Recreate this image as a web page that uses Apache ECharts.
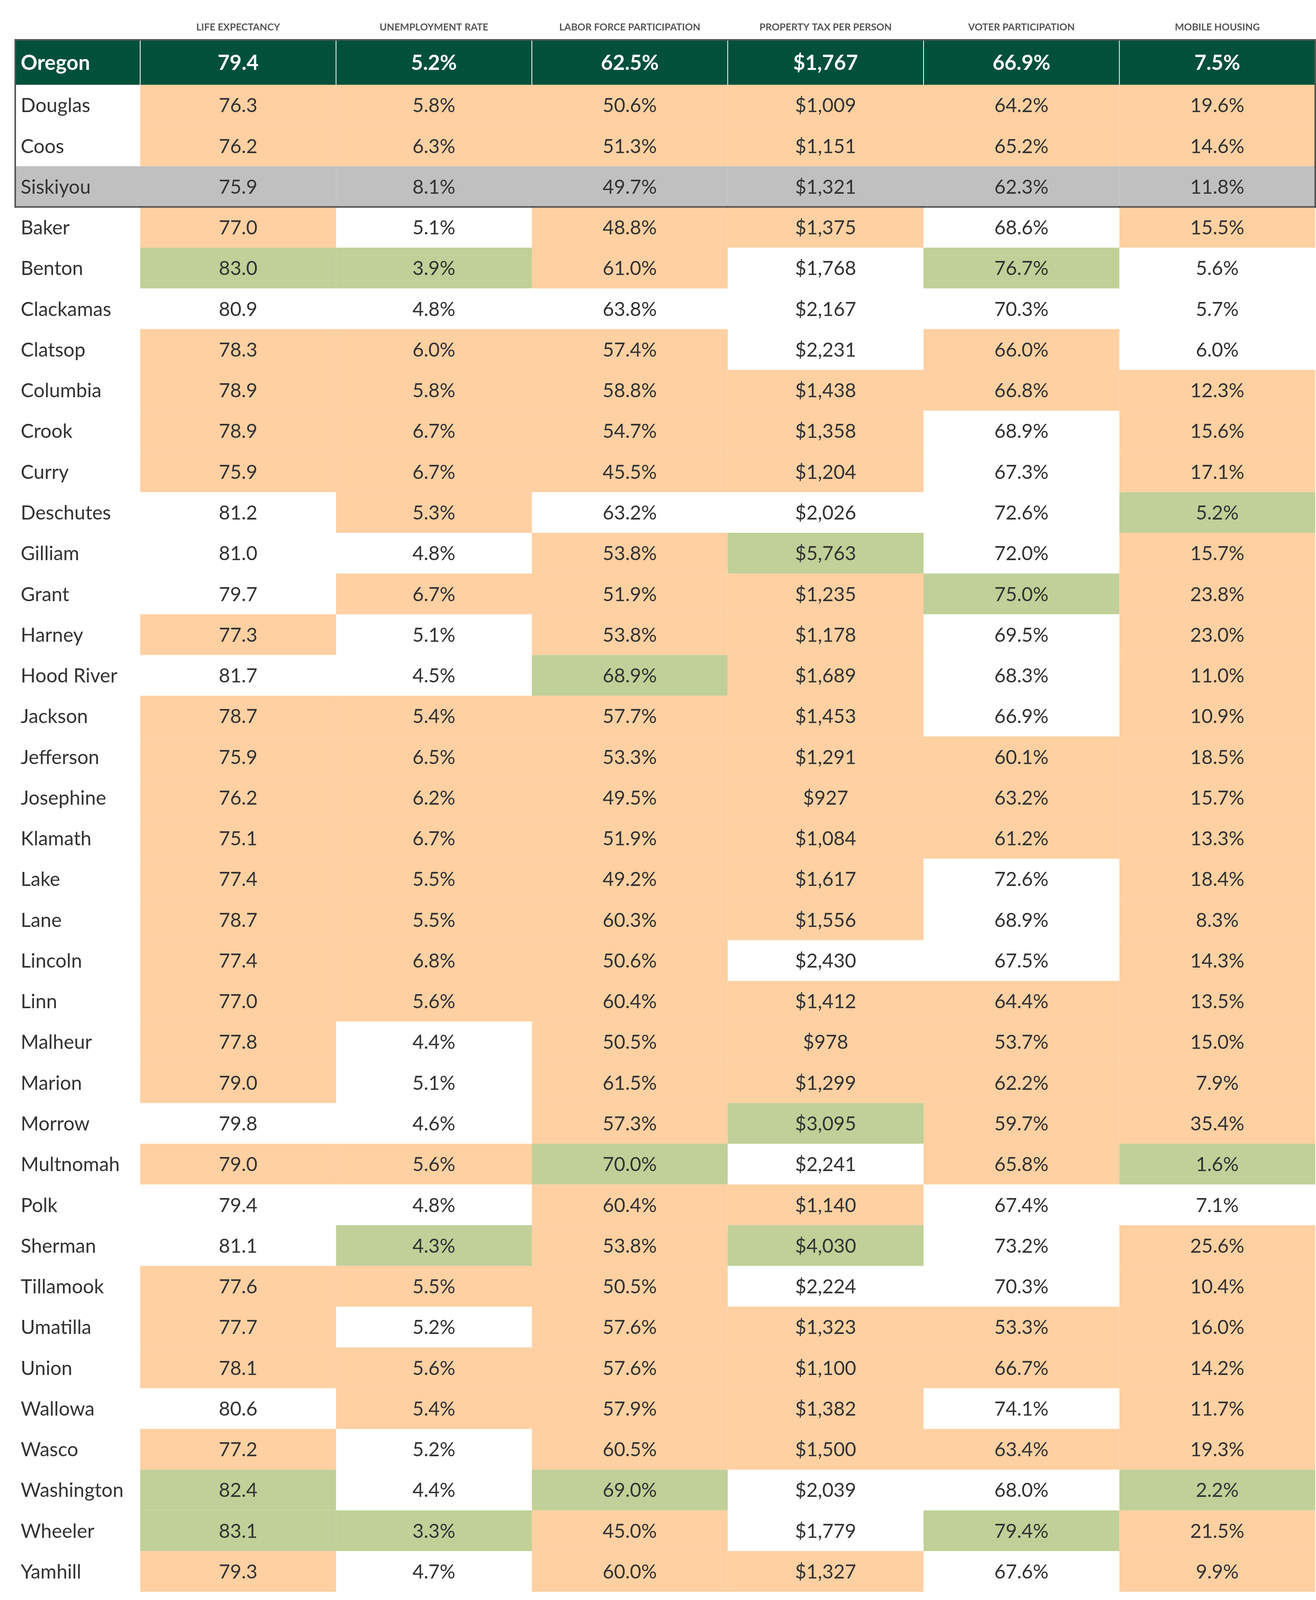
<!DOCTYPE html>
<html>
<head>
<meta charset="utf-8">
<script src="https://cdn.jsdelivr.net/npm/echarts@6.0.0/dist/echarts.min.js"></script>
<style>
  html, body { margin: 0; padding: 0; background: #fff; }
  #chart { width: 3370px; height: 4110px; }
</style>
</head>
<body>
<div id="chart"></div>
<script>
// column headers and which direction is "good" for each measure
const metrics = ['LIFE EXPECTANCY', 'UNEMPLOYMENT RATE', 'LABOR FORCE PARTICIPATION',
  'PROPERTY TAX PER PERSON', 'VOTER PARTICIPATION', 'MOBILE HOUSING'];
const higherIsBetter = [true, false, true, true, true, false];

const stateName = 'Oregon';
const stateValues = [79.4, 5.2, 62.5, 1767, 66.9, 7.5];

const counties = ['Douglas', 'Coos', 'Siskiyou', 'Baker', 'Benton', 'Clackamas', 'Clatsop',
  'Columbia', 'Crook', 'Curry', 'Deschutes', 'Gilliam', 'Grant', 'Harney', 'Hood River',
  'Jackson', 'Jefferson', 'Josephine', 'Klamath', 'Lake', 'Lane', 'Lincoln', 'Linn',
  'Malheur', 'Marion', 'Morrow', 'Multnomah', 'Polk', 'Sherman', 'Tillamook', 'Umatilla',
  'Union', 'Wallowa', 'Wasco', 'Washington', 'Wheeler', 'Yamhill'];

const lifeExpectancy = [76.3, 76.2, 75.9, 77.0, 83.0, 80.9, 78.3, 78.9, 78.9, 75.9, 81.2, 81.0,
  79.7, 77.3, 81.7, 78.7, 75.9, 76.2, 75.1, 77.4, 78.7, 77.4, 77.0, 77.8, 79.0, 79.8, 79.0,
  79.4, 81.1, 77.6, 77.7, 78.1, 80.6, 77.2, 82.4, 83.1, 79.3];
const unemployment = [5.8, 6.3, 8.1, 5.1, 3.9, 4.8, 6.0, 5.8, 6.7, 6.7, 5.3, 4.8, 6.7, 5.1, 4.5,
  5.4, 6.5, 6.2, 6.7, 5.5, 5.5, 6.8, 5.6, 4.4, 5.1, 4.6, 5.6, 4.8, 4.3, 5.5, 5.2, 5.6, 5.4,
  5.2, 4.4, 3.3, 4.7];
const laborForce = [50.6, 51.3, 49.7, 48.8, 61.0, 63.8, 57.4, 58.8, 54.7, 45.5, 63.2, 53.8, 51.9,
  53.8, 68.9, 57.7, 53.3, 49.5, 51.9, 49.2, 60.3, 50.6, 60.4, 50.5, 61.5, 57.3, 70.0, 60.4,
  53.8, 50.5, 57.6, 57.6, 57.9, 60.5, 69.0, 45.0, 60.0];
const propertyTax = [1009, 1151, 1321, 1375, 1768, 2167, 2231, 1438, 1358, 1204, 2026, 5763, 1235,
  1178, 1689, 1453, 1291, 927, 1084, 1617, 1556, 2430, 1412, 978, 1299, 3095, 2241, 1140,
  4030, 2224, 1323, 1100, 1382, 1500, 2039, 1779, 1327];
const voterTurnout = [64.2, 65.2, 62.3, 68.6, 76.7, 70.3, 66.0, 66.8, 68.9, 67.3, 72.6, 72.0, 75.0,
  69.5, 68.3, 66.9, 60.1, 63.2, 61.2, 72.6, 68.9, 67.5, 64.4, 53.7, 62.2, 59.7, 65.8, 67.4,
  73.2, 70.3, 53.3, 66.7, 74.1, 63.4, 68.0, 79.4, 67.6];
const mobileHousing = [19.6, 14.6, 11.8, 15.5, 5.6, 5.7, 6.0, 12.3, 15.6, 17.1, 5.2, 15.7, 23.8,
  23.0, 11.0, 10.9, 18.5, 15.7, 13.3, 18.4, 8.3, 14.3, 13.5, 15.0, 7.9, 35.4, 1.6, 7.1, 25.6,
  10.4, 16.0, 14.2, 11.7, 19.3, 2.2, 21.5, 9.9];

const outOfState = ['Siskiyou'];
const boxedRows = ['Douglas', 'Coos', 'Siskiyou'];

const FONT = 'Lato, "Open Sans", sans-serif';
const DARK_GREEN = '#00503a';
const ORANGE = '#fed0a2';
const GREEN = '#c0d098';
const GREY = '#c0c0c0';
const BORDER = '#555555';
const TEXT = '#333333';

const columns = [lifeExpectancy, unemployment, laborForce, propertyTax, voterTurnout, mobileHousing];

function formatValue(col, v) {
  if (col === 0) return v.toFixed(1);
  if (col === 3) return '$' + v.toLocaleString('en-US');
  return v.toFixed(1) + '%';
}

// orange = worse than the state, green = top three Oregon counties
function cellColor(col, row) {
  if (outOfState.indexOf(counties[row]) >= 0) return GREY;
  const up = higherIsBetter[col];
  const v = columns[col][row];
  const ranked = columns[col]
    .filter((_, i) => outOfState.indexOf(counties[i]) < 0)
    .slice()
    .sort((a, b) => up ? b - a : a - b);
  if (up ? v >= ranked[2] : v <= ranked[2]) return GREEN;
  if (up ? v < stateValues[col] : v > stateValues[col]) return ORANGE;
  return null;
}

const lastBoxed = boxedRows[boxedRows.length - 1];

// cell lists for the four grids
const stateLabelCells = [{ x: 0, y: 0, text: stateName, fill: DARK_GREEN, state: true, top: true, left: true }];
const stateValueCells = stateValues.map((v, c) => ({
  x: c, y: 0, text: formatValue(c, v), fill: DARK_GREEN, state: true, top: true,
  right: c === metrics.length - 1
}));
const countyLabelCells = counties.map((name, r) => ({
  x: 0, y: r, text: name,
  fill: outOfState.indexOf(name) >= 0 ? GREY : null,
  left: boxedRows.indexOf(name) >= 0,
  bottom: name === lastBoxed
}));
const countyValueCells = [];
counties.forEach((name, r) => {
  columns.forEach((vals, c) => {
    countyValueCells.push({
      x: c, y: r, text: formatValue(c, vals[r]), fill: cellColor(c, r),
      right: c === metrics.length - 1 && boxedRows.indexOf(name) >= 0,
      bottom: name === lastBoxed
    });
  });
});

function makeRenderer(cells, isLabel) {
  return function (params, api) {
    const cell = cells[params.dataIndex];
    const center = api.coord([api.value(0), api.value(1)]);
    const size = api.size([1, 1]);
    const x0 = center[0] - size[0] / 2;
    const y0 = center[1] - size[1] / 2;
    const x1 = x0 + size[0];
    const y1 = y0 + size[1];
    const inset = cell.state ? 1 : 0;
    const children = [];
    if (cell.fill) {
      children.push({
        type: 'rect',
        shape: { x: x0 + inset, y: y0, width: size[0] - inset * 2, height: size[1] },
        style: { fill: cell.fill }
      });
    }
    children.push({
      type: 'text',
      x: isLabel ? x0 + 14 : center[0],
      y: center[1] + 2,
      style: {
        text: cell.text,
        fill: cell.state ? '#ffffff' : TEXT,
        fontSize: cell.state ? 53 : 50,
        fontWeight: cell.state ? 'bold' : 'normal',
        fontFamily: FONT,
        align: isLabel ? 'left' : 'center',
        verticalAlign: 'middle'
      },
      z2: 5
    });
    const edge = (ax, ay, bx, by) => children.push({
      type: 'line',
      shape: { x1: ax, y1: ay, x2: bx, y2: by },
      style: { stroke: BORDER, lineWidth: 4, lineCap: 'square' },
      z2: 10
    });
    if (cell.top) edge(x0, y0, x1, y0);
    if (cell.bottom) edge(x0, y1, x1, y1);
    if (cell.left) edge(x0, y0, x0, y1);
    if (cell.right) edge(x1, y0, x1, y1);
    return { type: 'group', children: children };
  };
}

function cellSeries(cells, gridIdx, isLabel) {
  return {
    type: 'custom',
    xAxisIndex: gridIdx,
    yAxisIndex: gridIdx,
    silent: true,
    animation: false,
    encode: { x: 0, y: 1 },
    data: cells.map(c => [c.x, c.y]),
    renderItem: makeRenderer(cells, isLabel)
  };
}

const chart = echarts.init(document.getElementById('chart'), null, { renderer: 'canvas' });

const hiddenAxis = (data, gridIndex, inverse) => ({
  type: 'category', data: data, gridIndex: gridIndex, inverse: !!inverse, show: false
});

const option = {
  backgroundColor: '#ffffff',
  animation: false,
  grid: [
    { left: 39, top: 102, width: 320, height: 115 },
    { left: 359, top: 102, right: 2, height: 115 },
    { left: 39, top: 217, width: 320, height: 3858 },
    { left: 359, top: 217, right: 2, height: 3858 }
  ],
  xAxis: [
    hiddenAxis([''], 0),
    {
      type: 'category',
      data: metrics,
      gridIndex: 1,
      position: 'top',
      axisLine: { show: false },
      axisTick: { show: false },
      splitLine: { show: false },
      axisLabel: {
        interval: 0,
        margin: 20,
        fontSize: 25,
        fontWeight: 'bold',
        fontFamily: FONT,
        color: '#555555'
      }
    },
    hiddenAxis([''], 2),
    hiddenAxis(metrics, 3)
  ],
  yAxis: [
    hiddenAxis([stateName], 0),
    hiddenAxis([stateName], 1),
    hiddenAxis(counties, 2, true),
    hiddenAxis(counties, 3, true)
  ],
  series: [
    cellSeries(stateLabelCells, 0, true),
    cellSeries(stateValueCells, 1, false),
    cellSeries(countyLabelCells, 2, true),
    cellSeries(countyValueCells, 3, false)
  ]
};

chart.setOption(option);
</script>
</body>
</html>
